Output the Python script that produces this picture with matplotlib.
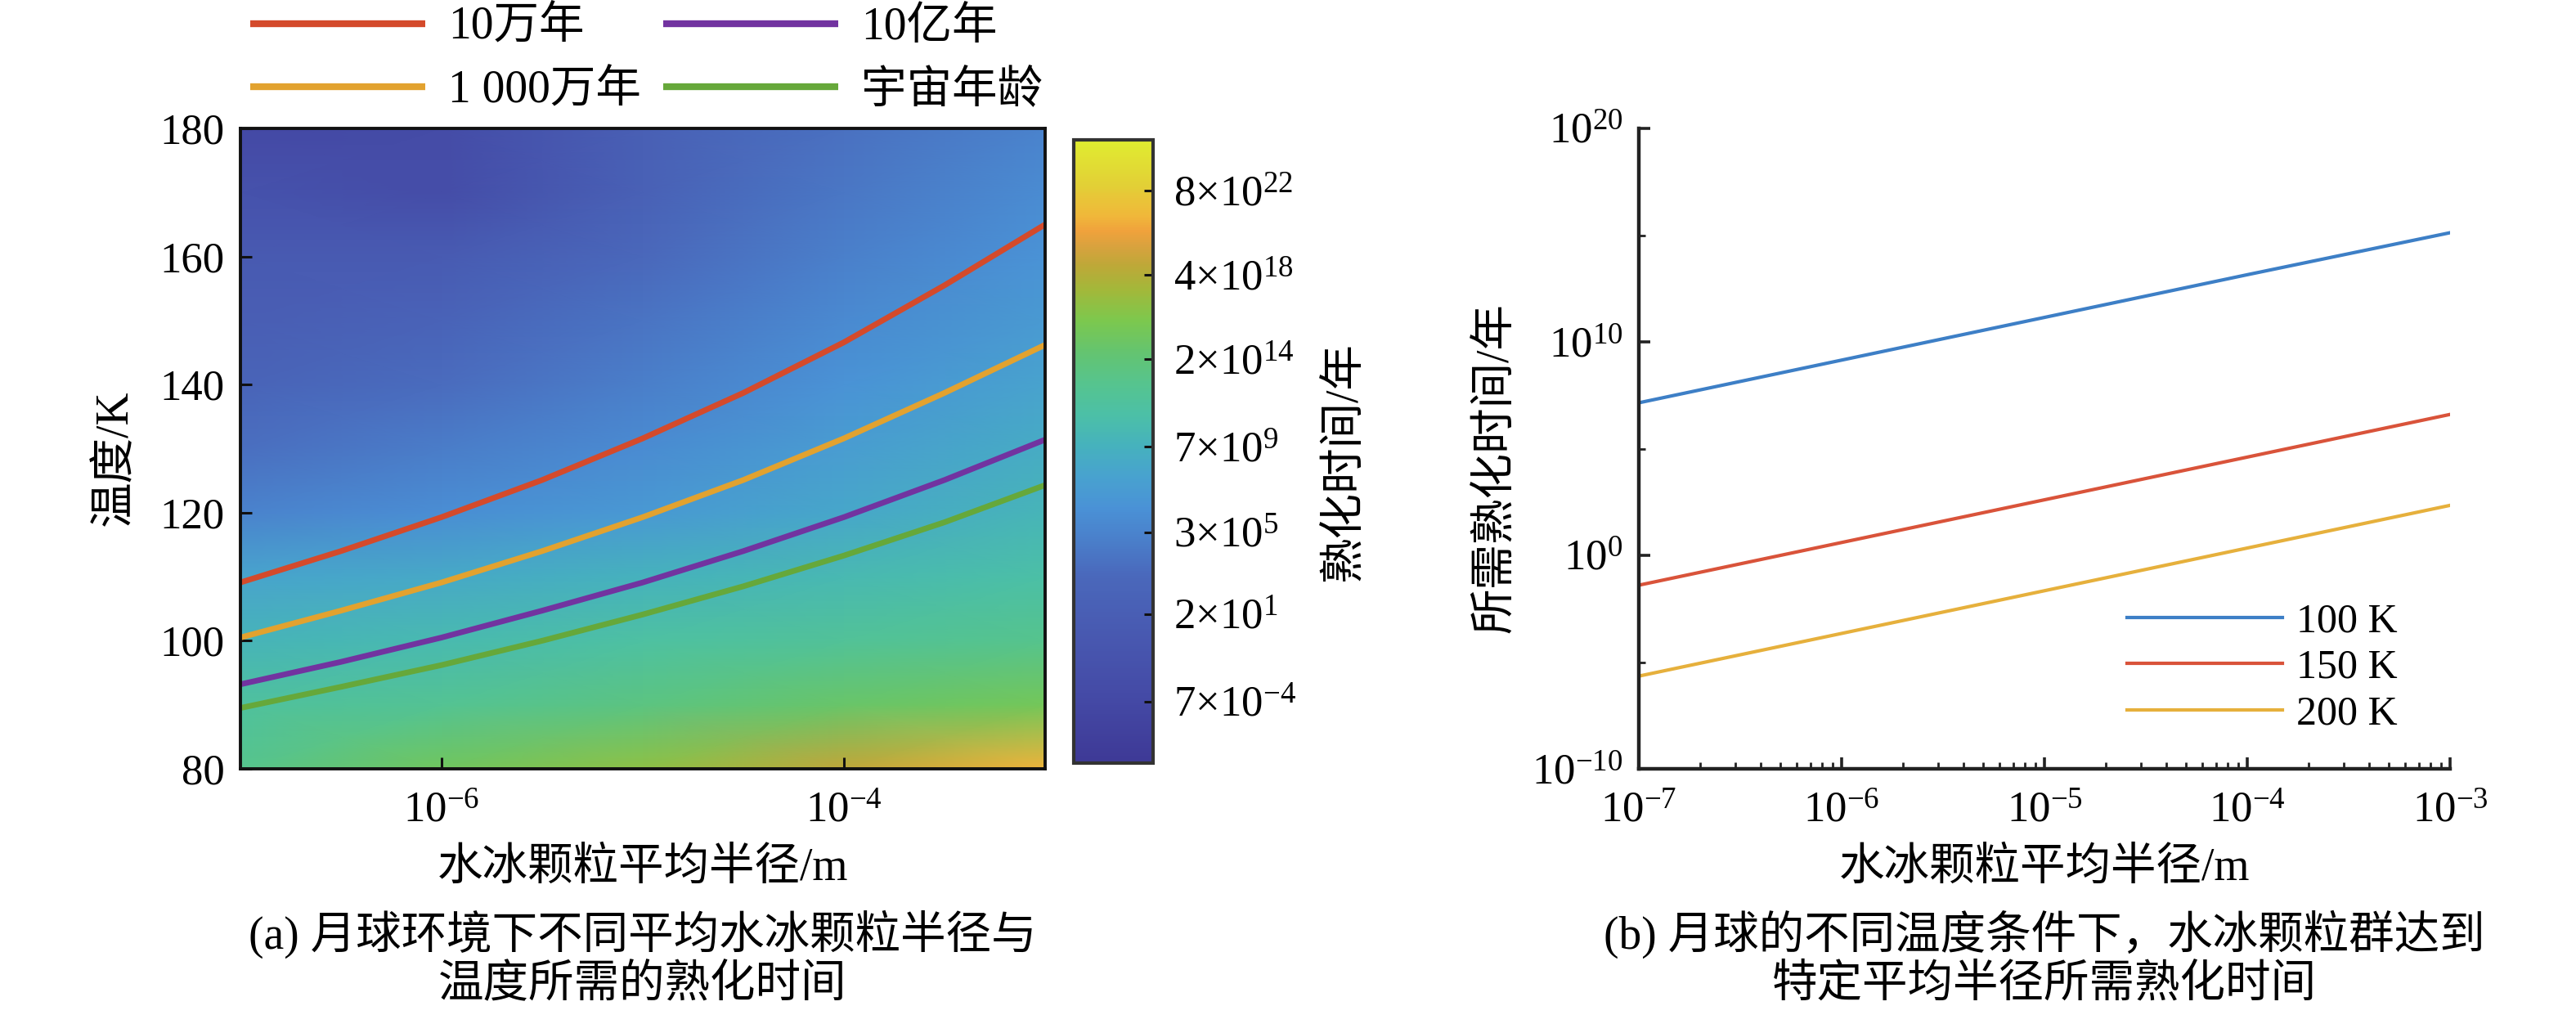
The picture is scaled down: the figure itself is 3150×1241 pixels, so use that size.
import numpy as np
import matplotlib
matplotlib.use('Agg')
import matplotlib.pyplot as plt
from matplotlib.colors import LinearSegmentedColormap, Normalize

plt.rcParams['font.family'] = ['Liberation Serif', 'Noto Sans CJK SC']
plt.rcParams['mathtext.fontset'] = 'custom'
plt.rcParams['mathtext.rm'] = 'Liberation Serif'
plt.rcParams['mathtext.it'] = 'Liberation Serif:italic'
plt.rcParams['mathtext.bf'] = 'Liberation Serif:bold'

# ---- (a) ripening time map, log10(years) ----
radius_grid = [1e-7, 1e-6, 1e-5, 1e-4, 1e-3]
temp_grid = [80, 90, 100, 110, 120, 130, 140, 150, 160, 170, 180]
log_time_grid = [
    [13.1, 15.5, 17.0, 19.2, 21.5],   # 80 K
    [12.0, 12.8, 13.8, 15.0, 15.8],   # 90 K
    [10.2, 10.8, 11.8, 12.4, 13.1],   # 100 K
    [8.6, 9.0, 9.9, 10.6, 11.5],      # 110 K
    [5.5, 6.4, 7.4, 8.8, 10.3],       # 120 K
    [3.8, 5.0, 6.2, 7.8, 9.3],        # 130 K
    [2.4, 3.6, 5.1, 6.8, 8.4],        # 140 K
    [1.4, 2.3, 4.2, 6.0, 7.6],        # 150 K
    [0.5, 0.6, 3.2, 5.2, 6.8],        # 160 K
    [-1.2, -2.2, 1.8, 4.5, 6.2],      # 170 K
    [-3.0, -2.4, 1.6, 3.9, 5.5],      # 180 K
]

# iso-time curves (temperature in K at each radius)
curve_radius = [1e-7, 10**-6.5, 1e-6, 10**-5.5, 1e-5, 10**-4.5, 1e-4, 10**-3.5, 1e-3]
curve_1e5 = [109.1, 114.0, 119.3, 125.1, 131.6, 138.7, 146.6, 155.5, 165.0]
curve_1e7 = [100.5, 104.7, 109.1, 114.0, 119.3, 125.1, 131.6, 138.7, 146.2]
curve_1e9 = [93.2, 96.7, 100.5, 104.7, 109.1, 114.0, 119.3, 125.1, 131.4]
curve_age = [89.5, 92.8, 96.2, 100.0, 104.1, 108.5, 113.3, 118.5, 124.3]
curve_labels = ['10万年', '1 000万年', '10亿年', '宇宙年龄']
curve_colors = ['#d44a2b', '#e2a22f', '#7233a0', '#66a83a']

cbar_values = [7e-4, 2e1, 3e5, 7e9, 2e14, 4e18, 8e22]
cbar_labels = ['7×10$^{-4}$', '2×10$^{1}$', '3×10$^{5}$', '7×10$^{9}$',
               '2×10$^{14}$', '4×10$^{18}$', '8×10$^{22}$']

# ---- (b) ripening time vs radius at fixed temperature ----
radius_b = [1e-7, 1e-6, 1e-5, 1e-4, 1e-3]
time_100K = [1.4e7, 1.4e9, 1.4e11, 1.4e13, 1.3e15]
time_150K = [0.04, 4.0, 4e2, 4e4, 4e6]
time_200K = [2.2e-6, 2.2e-4, 2.2e-2, 2.2, 2.2e2]
b_labels = ['100 K', '150 K', '200 K']
b_colors = ['#3d7fc6', '#d9533a', '#e6b03c']

# parula-like colormap sampled from the colour bar
cmap = LinearSegmentedColormap.from_list('parula_like', [
    (0.00, '#3e3996'), (0.10, '#4449a5'), (0.20, '#4858b0'),
    (0.30, '#4a68bb'), (0.36, '#4a80cb'), (0.41, '#4a92d6'),
    (0.46, '#48a2cf'), (0.51, '#46b2bd'), (0.56, '#4cc0a6'),
    (0.61, '#56c48e'), (0.66, '#64c470'), (0.71, '#7cc84e'),
    (0.76, '#a2b83a'), (0.80, '#bea838'), (0.83, '#d8a23e'),
    (0.855, '#f0a23c'), (0.88, '#f0b83a'), (0.93, '#e2d036'),
    (1.00, '#e0ec30'),
])
norm = Normalize(vmin=-6.3, vmax=25.5)

W, H = 3150, 1241
fig = plt.figure(figsize=(W / 200, H / 200), dpi=200)


def fx(px):
    return px / W


def fy(py):
    return 1 - py / H


tick_fs = 19
cjk_fs = 20

# ---------------- panel (a) ----------------
ax1 = fig.add_axes([fx(294), fy(940), fx(1278 - 294), (940 - 157) / H])
mesh = ax1.pcolormesh(radius_grid, temp_grid, np.array(log_time_grid),
                      cmap=cmap, norm=norm, shading='gouraud')
handles = []
for ys, c, lab in zip([curve_1e5, curve_1e7, curve_1e9, curve_age], curve_colors, curve_labels):
    h, = ax1.plot(curve_radius, ys, color=c, lw=2.5, label=lab, solid_capstyle='butt')
    handles.append(h)
ax1.set_xscale('log')
ax1.set_xlim(1e-7, 1e-3)
ax1.set_ylim(80, 180)
ax1.set_xticks([1e-6, 1e-4])
ax1.xaxis.set_minor_locator(matplotlib.ticker.NullLocator())
ax1.set_yticks([80, 100, 120, 140, 160, 180])
ax1.tick_params(direction='in', length=5, width=1.1, labelsize=tick_fs,
                top=False, right=False, color='#111')
ax1.tick_params(axis='x', pad=10)
ax1.tick_params(axis='y', pad=7)
for s in ax1.spines.values():
    s.set_linewidth(1.4)
    s.set_color('#111')

# colour bar
cax = fig.add_axes([fx(1313), fy(933), fx(1410 - 1313), (933 - 171) / H])
cb = fig.colorbar(mesh, cax=cax)
cb.set_ticks(np.log10(cbar_values))
cb.set_ticklabels(cbar_labels)
cax.tick_params(direction='in', length=4, width=1.1, labelsize=tick_fs, pad=9, color='#111')
cax.minorticks_off()
cb.outline.set_linewidth(1.5)
cb.outline.set_edgecolor('#333')
fig.text(fx(1645), fy(565), '熟化时间/年', rotation=90, ha='center', va='center', fontsize=cjk_fs)

leg1 = fig.legend(handles=handles, labels=curve_labels, ncol=2, loc='upper left',
                  bbox_to_anchor=(fx(306), fy(8)), frameon=False, fontsize=cjk_fs,
                  handlelength=3.85, handletextpad=0.5, columnspacing=0.5,
                  labelspacing=0.45, borderpad=0, borderaxespad=0)
for ln in leg1.get_lines():
    ln.set_linewidth(3.0)

fig.text(fx(141), fy(560), '温度/K', rotation=90, ha='center', va='center', fontsize=cjk_fs)
fig.text(fx(786), fy(1062), '水冰颗粒平均半径/m', ha='center', va='center', fontsize=cjk_fs)
fig.text(fx(786), fy(1142), '(a) 月球环境下不同平均水冰颗粒半径与', ha='center', va='center', fontsize=cjk_fs)
fig.text(fx(786), fy(1205), '温度所需的熟化时间', ha='center', va='center', fontsize=cjk_fs)

# ---------------- panel (b) ----------------
ax2 = fig.add_axes([fx(2004), fy(940), fx(2996 - 2004), (940 - 157) / H])
for ys, c, lab in zip([time_100K, time_150K, time_200K], b_colors, b_labels):
    ax2.plot(radius_b, ys, color=c, lw=1.5, label=lab)
ax2.set_xscale('log')
ax2.set_yscale('log')
ax2.set_xlim(1e-7, 1e-3)
ax2.set_ylim(1e-10, 1e20)
ax2.set_xticks([1e-7, 1e-6, 1e-5, 1e-4, 1e-3])
ax2.set_yticks([1e-10, 1e0, 1e10, 1e20])
ax2.yaxis.set_minor_locator(matplotlib.ticker.FixedLocator([1e-5, 1e5, 1e15]))
ax2.yaxis.set_minor_formatter(matplotlib.ticker.NullFormatter())
ax2.xaxis.set_minor_locator(matplotlib.ticker.LogLocator(base=10, subs=np.arange(2, 10), numticks=20))
ax2.xaxis.set_minor_formatter(matplotlib.ticker.NullFormatter())
ax2.tick_params(which='major', direction='in', length=5, width=1.3, labelsize=tick_fs, color='#222')
ax2.tick_params(which='minor', direction='in', length=3, width=1.0, color='#222')
ax2.tick_params(axis='x', pad=10)
ax2.tick_params(axis='y', pad=7)
ax2.spines['top'].set_visible(False)
ax2.spines['right'].set_visible(False)
for s in ['left', 'bottom']:
    ax2.spines[s].set_linewidth(1.6)
    ax2.spines[s].set_color('#222')
ax2.legend(loc='lower right', bbox_to_anchor=(0.935, 0.056), frameon=False, fontsize=18,
           handlelength=3.8, handletextpad=0.33, labelspacing=0.2, borderpad=0, borderaxespad=0)

fig.text(fx(1830), fy(572), '所需熟化时间/年', rotation=90, ha='center', va='center', fontsize=cjk_fs)
fig.text(fx(2500), fy(1062), '水冰颗粒平均半径/m', ha='center', va='center', fontsize=cjk_fs)
fig.text(fx(2500), fy(1142), '(b) 月球的不同温度条件下，水冰颗粒群达到', ha='center', va='center', fontsize=cjk_fs)
fig.text(fx(2500), fy(1205), '特定平均半径所需熟化时间', ha='center', va='center', fontsize=cjk_fs)

fig.savefig('out.png', dpi=200, facecolor='white')
